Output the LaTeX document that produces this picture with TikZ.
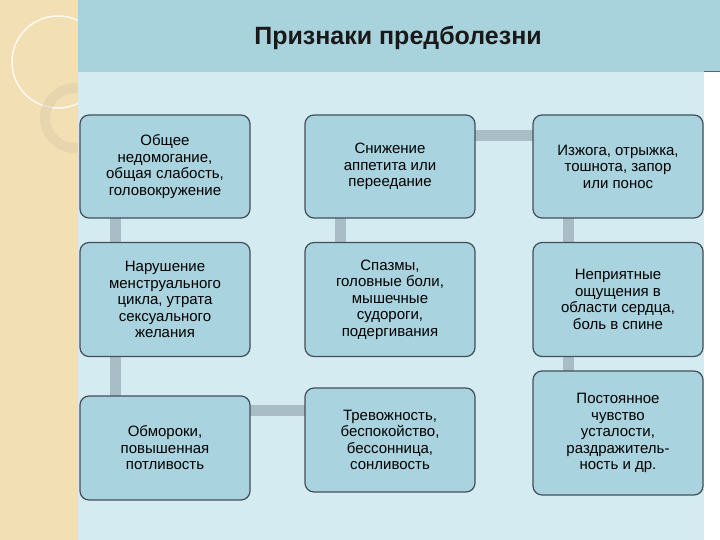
\documentclass[tikz,border=0pt]{standalone}
\usepackage{fontspec}
\setmainfont{Liberation Sans}
\begin{document}
\begin{tikzpicture}[x=1pt,y=-1pt,
  box/.style={draw=black!75!cyan, line width=1.2pt, rounded corners=9pt, fill=boxc, align=center, font=\fontsize{15}{16.5}\selectfont, inner sep=2pt},
  bar/.style={draw=barc, line width=11pt}]
\definecolor{boxc}{HTML}{A8D3DF}
\definecolor{barc}{HTML}{A9BDC6}
\definecolor{bandc}{HTML}{A9D3DC}
\definecolor{areac}{HTML}{D4EBF1}
\definecolor{beige}{HTML}{F2DFB3}
\useasboundingbox (0,0) rectangle (720,540);
\fill[white] (0,0) rectangle (720,540);
\fill[beige] (0,0) rectangle (78,540);
\draw[white!85!beige, line width=1.5pt] (58,62) circle (46);
\draw[beige!80!gray, line width=10pt, opacity=0.5] (75,118) circle (30);
\fill[areac] (78,72) rectangle (704,540);
\fill[bandc] (78,0) rectangle (720,72);
\draw[black!60!cyan, line width=0.8pt] (704,71) -- (720,71);
\node[font=\bfseries\fontsize{25}{28}\selectfont, text=black!90] (title) at (398,38) {Признаки предболезни};
% connectors
\draw[bar] (115,200) -- (115,260);
\draw[bar] (115,340) -- (115,410);
\draw[bar] (230,410) -- (320,410);
\draw[bar] (340,200) -- (340,260);
\draw[bar] (460,136) -- (550,136);
\draw[bar] (568,200) -- (568,390);
% nodes
\node[box, minimum width=170pt, minimum height=103pt] (a1) at (165,166.5) {Общее\\недомогание,\\общая слабость,\\головокружение};
\node[box, minimum width=170pt, minimum height=114pt] (a2) at (165,299.5) {Нарушение\\менструального\\цикла, утрата\\сексуального\\желания};
\node[box, minimum width=170pt, minimum height=104pt] (a3) at (165,448) {Обмороки,\\повышенная\\потливость};
\node[box, minimum width=170pt, minimum height=103pt] (b1) at (390,166.5) {Снижение\\аппетита или\\переедание};
\node[box, minimum width=170pt, minimum height=114pt] (b2) at (390,299.5) {Спазмы,\\головные боли,\\мышечные\\судороги,\\подергивания};
\node[box, minimum width=170pt, minimum height=104pt] (b3) at (390,440) {Тревожность,\\беспокойство,\\бессонница,\\сонливость};
\node[box, minimum width=170pt, minimum height=103pt] (c1) at (618,166.5) {Изжога, отрыжка,\\тошнота,  запор\\или понос};
\node[box, minimum width=170pt, minimum height=114pt] (c2) at (618,299.5) {Неприятные\\ощущения в\\области сердца,\\боль в спине};
\node[box, minimum width=170pt, minimum height=124pt] (c3) at (618,433) {Постоянное\\чувство\\усталости,\\раздражитель-\\ность и др.};
\end{tikzpicture}
\end{document}
